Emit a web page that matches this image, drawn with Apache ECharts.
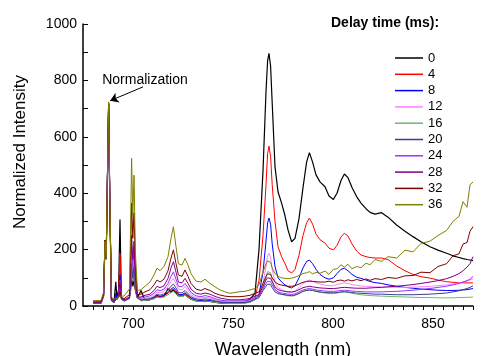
<!DOCTYPE html>
<html>
<head>
<meta charset="utf-8">
<script src="https://cdn.jsdelivr.net/npm/echarts@6/dist/echarts.min.js"></script>
<style>
html,body{margin:0;padding:0;background:#fff;}
#chart{width:482px;height:356px;}
</style>
</head>
<body>
<div id="chart"></div>
<script>
// Wavelength grid (nm)
const wavelength = [
  680, 684, 685.3, 686, 686.6, 687.2, 687.8, 688.4, 689.2, 690.5, 691.4, 692, 692.8, 693.5, 694.2, 695.5, 698.2, 698.8, 699.3, 699.9, 700.5, 701.2, 702.2,
  704, 706, 708.5, 710.5, 712, 713.5, 715.5, 717.5, 719, 720.2, 721.5, 722.7, 724.5, 726, 727.5, 729, 731.5, 734, 736, 738.5, 741, 743.5, 746, 748.5, 751, 753.5, 756, 758.5, 761,
  763, 765, 766.5, 767.3, 768, 768.8, 769.6, 771, 772.5, 774.3, 776, 777.5, 779.3, 781, 783, 785, 786.8, 788.2, 789.8, 791.5, 793.5, 796, 798, 800.2, 802, 804, 805.7, 807.5, 809.5, 811.8, 814, 816.5, 818.5, 821, 824.3, 827.5, 831.8, 836, 840, 844, 848.5, 852.5, 856.8, 860, 863, 865, 867, 868.5, 870
];

const delayNames = ['0','4','8','12','16','20','24','28','32','36'];
const delayColors = ['#000000','#ff0000','#0000ff','#ff80ff','#70b870','#3a3f8f','#9933ff','#800080','#800000','#808000'];

const d0 = [
  10,10,35,225,165, 440,715,370,20,12, 86,25,60,307,30, 18,28,55,100,70, 90,55,28,
  55,20,22,27,34, 30,34,62,48,58, 46,36,34,40,32, 24,18,16,18,16, 13,11,10,10,10, 12,16,24,45,
  200,480,760,870,896, 850,720,494,405,365, 320,270,228,240,310, 420,510,544,510,465, 440,423,390,378,400, 445,468,455,420,388, 365,345,332,326,331, 315,287,265,246,228, 210,198,187,178,172, 168,165,163,161
];
const d4 = [
  10,10,38,228,168, 445,716,375,22,14, 35,22,45,187,28, 20,30,65,120,85, 110,60,30,
  19,21,23,28,36, 32,36,45,55,60, 50,39,37,44,35, 26,20,18,20,18, 14,11,10,9,9, 10,12,16,30,
  90,250,430,540,567, 530,430,300,210,175, 150,125,117,130,180, 250,295,312,290,255, 235,223,205,199,215, 245,258,248,220,195, 181,175,172,170,170, 165,142,125,112,104, 99,92,86,84,83, 82,82,82,82
];
const d8 = [
  12,12,40,232,170, 448,718,378,24,15, 45,24,40,110,27, 20,30,75,140,95, 125,65,30,
  20,22,24,30,38, 34,38,48,60,66, 55,42,40,47,38, 28,21,19,21,19, 15,12,11,10,10, 10,11,14,24,
  40,120,230,295,312, 290,220,140,100,85, 75,68,64,72,100, 135,158,163,150,130, 112,100,95,100,115, 130,134,125,112,102, 98,92,87,83,80, 75,70,66,63,60, 58,56,55,55,56, 57,58,60,62
];
const d12 = [
  12,12,40,230,170, 448,718,378,24,15, 25,22,35,90,26, 20,30,90,170,115, 160,75,30,
  25,28,30,38,50, 46,52,68,88,98, 80,60,57,69,55, 40,30,28,31,28, 22,18,16,15,15, 15,16,19,28,
  35,80,140,178,187, 170,130,85,65,58, 52,50,48,52,65, 80,88,92,88,82, 78,74,72,72,76, 80,82,80,76,73, 71,70,69,68,68, 67,66,66,67,68, 70,72,75,78,82, 85,88,92,96
];
const d16 = [
  11,11,38,228,168, 445,716,375,22,14, 22,20,30,60,24, 18,28,70,130,90, 120,60,28,
  18,20,22,26,32, 29,32,40,47,51, 44,35,33,38,31, 24,18,16,18,16, 13,11,10,9,9, 9,10,13,22,
  30,60,100,122,128, 118,90,60,48,42, 38,36,35,37,44, 52,56,58,56,52, 48,46,44,44,46, 48,49,48,45,42, 40,38,37,36,35, 34,33,32,31,30, 30,29,29,29,30, 30,31,31,32
];
const d20 = [
  11,11,38,228,168, 445,716,375,22,14, 22,20,30,70,24, 18,28,80,150,100, 140,65,28,
  22,24,26,33,42, 38,43,56,70,78, 64,48,46,55,44, 33,25,23,25,23, 18,15,13,12,12, 12,13,16,24,
  30,55,70,78,80, 76,65,50,44,41, 40,38,37,39,45, 52,55,56,55,52, 50,48,47,47,48, 50,51,50,48,46, 45,44,43,42,42, 41,40,40,40,41, 42,44,46,50,54, 58,62,66,72
];
const d24 = [
  12,12,40,234,172, 450,718,380,25,16, 24,22,32,80,26, 20,30,110,210,140, 195,85,30,
  28,32,36,45,58, 54,60,80,105,121, 95,70,68,80,65, 48,36,33,37,33, 26,21,19,18,18, 18,19,22,30,
  35,60,80,88,90, 86,75,58,50,46, 44,42,41,43,50, 57,60,62,60,57, 55,53,52,52,53, 55,56,55,53,52, 51,50,50,50,50, 51,52,54,56,59, 62,66,70,75,80, 85,90,95,105
];
const d28 = [
  13,13,42,234,172, 452,718,380,26,17, 25,24,35,90,28, 22,32,130,250,165, 230,100,32,
  32,38,42,55,70, 65,72,98,135,157, 120,85,82,98,80, 60,45,42,46,42, 34,28,25,22,22, 22,24,27,35,
  40,70,92,100,102, 98,86,68,58,54, 52,50,50,52,58, 65,68,70,68,66, 64,63,62,62,63, 65,66,65,64,63, 63,63,64,65,66, 68,70,73,76,80, 85,90,97,105,115, 125,138,150,175
];
const d32 = [
  15,15,44,232,172, 455,720,385,28,20, 28,26,32,50,30, 26,40,190,365,240, 330,140,40,
  42,50,58,75,92, 85,95,125,170,199, 150,110,105,128,105, 80,60,55,62,55, 45,39,35,33,33, 33,35,38,45,
  50,80,105,114,117, 112,100,85,78,74, 72,70,70,72,78, 84,87,88,87,86, 85,85,88,84,90, 92,88,93,89,94, 90,96,91,97,94, 101,98,107,108,120, 118,140,150,178,185, 220,225,265,281
];
const d36 = [
  19,20,48,230,172, 458,724,390,32,24, 30,28,30,35,32, 35,60,280,524,320, 464,190,55,
  58,70,85,110,134, 125,140,175,240,281, 210,150,145,169,145, 115,88,85,95,80, 68,57,50,45,48, 51,52,57,62,
  75,120,150,160,163, 155,135,115,105,100, 98,97,99,102,108, 115,118,122,114,119, 116,124,112,130,132, 146,138,148,132,140, 136,152,146,165,158, 175,170,198,192,222, 230,250,268,300,318, 370,350,430,440
];
const seriesValues = [d0,d4,d8,d12,d16,d20,d24,d28,d32,d36];

const xTicks = [680,685,690,695,700,705,710,715,720,725,730,735,740,745,750,755,760,765,770,775,780,785,790,795,800,805,810,815,820,825,830,835,840,845,850,855,860,865,870];
const xLabels = [700,750,800,850];
const yTicks = [0,100,200,300,400,500,600,700,800,900,1000];
const yLabels = [0,200,400,600,800,1000];

seriesValues.forEach((s,i)=>{ if (s.length !== wavelength.length) throw new Error('length mismatch series '+delayNames[i]+': '+s.length+' vs '+wavelength.length); });

const FONT = "'Liberation Sans', Arial, sans-serif";

const series = seriesValues.map((vals, i) => {
  const s = {
    name: delayNames[i],
    type: 'line',
    data: wavelength.map((w, k) => [w, vals[k]]),
    symbol: 'none',
    showSymbol: false,
    lineStyle: { width: i === 0 ? 1.2 : 1, color: delayColors[i] },
    itemStyle: { color: delayColors[i] },
    z: 2 + i
  };
  if (i === seriesValues.length - 1) {
    s.markLine = {
      silent: true,
      symbol: ['none', 'arrow'],
      symbolSize: 8,
      label: { show: false },
      lineStyle: { color: '#000', width: 1, type: 'solid' },
      data: [[{ coord: [705, 777] }, { coord: [688.6, 728] }]]
    };
    s.markPoint = {
      silent: true,
      symbol: 'circle',
      symbolSize: 0,
      label: { show: true, formatter: 'Normalization', position: 'inside', color: '#000', fontSize: 14, fontFamily: FONT },
      data: [{ coord: [706, 800] }]
    };
  }
  return s;
});

const chart = echarts.init(document.getElementById('chart'), null, { renderer: 'canvas' });
chart.setOption({
  animation: false,
  backgroundColor: '#ffffff',
  textStyle: { fontFamily: FONT },
  title: {
    text: 'Delay time (ms):',
    left: 331, top: 16, padding: 0,
    textStyle: { fontSize: 14, fontWeight: 'bold', color: '#000', fontFamily: FONT }
  },
  legend: {
    orient: 'vertical',
    left: 395, top: 51, padding: 0,
    icon: 'rect',
    itemWidth: 28, itemHeight: 1.5, itemGap: 2.3,
    textStyle: { fontSize: 13, color: '#000', lineHeight: 14, fontFamily: FONT },
    data: delayNames
  },
  graphic: [
    {
      type: 'text', x: 283, y: 350,
      style: { text: 'Wavelength (nm)', fontSize: 18, fontFamily: FONT, fill: '#000', textAlign: 'center', textVerticalAlign: 'middle' }
    },
    {
      type: 'text', x: 20.5, y: 152, rotation: Math.PI / 2,
      style: { text: 'Normalized Intensity', fontSize: 17, fontFamily: FONT, fill: '#000', textAlign: 'center', textVerticalAlign: 'middle' }
    }
  ],
  grid: { left: 83, right: 9, top: 24, bottom: 50, containLabel: false },
  xAxis: {
    type: 'value', min: 675, max: 870,
    axisLine: { show: true, lineStyle: { color: '#000', width: 1.5 } },
    axisTick: { show: true, inside: false, length: 4, customValues: xTicks, lineStyle: { color: '#000', width: 1 } },
    axisLabel: { customValues: xLabels, fontSize: 14, color: '#000', margin: 11, fontFamily: FONT },
    splitLine: { show: false }
  },
  yAxis: {
    type: 'value', min: 0, max: 1000,
    axisLine: { show: true, lineStyle: { color: '#000', width: 1.5 } },
    axisTick: { show: true, inside: true, length: 5, customValues: yTicks, lineStyle: { color: '#000', width: 1 } },
    axisLabel: { customValues: yLabels, fontSize: 14, color: '#000', margin: 6, fontFamily: FONT, formatter: function (v) { return String(v); } },
    splitLine: { show: false }
  },
  series: series
});
</script>
</body>
</html>
